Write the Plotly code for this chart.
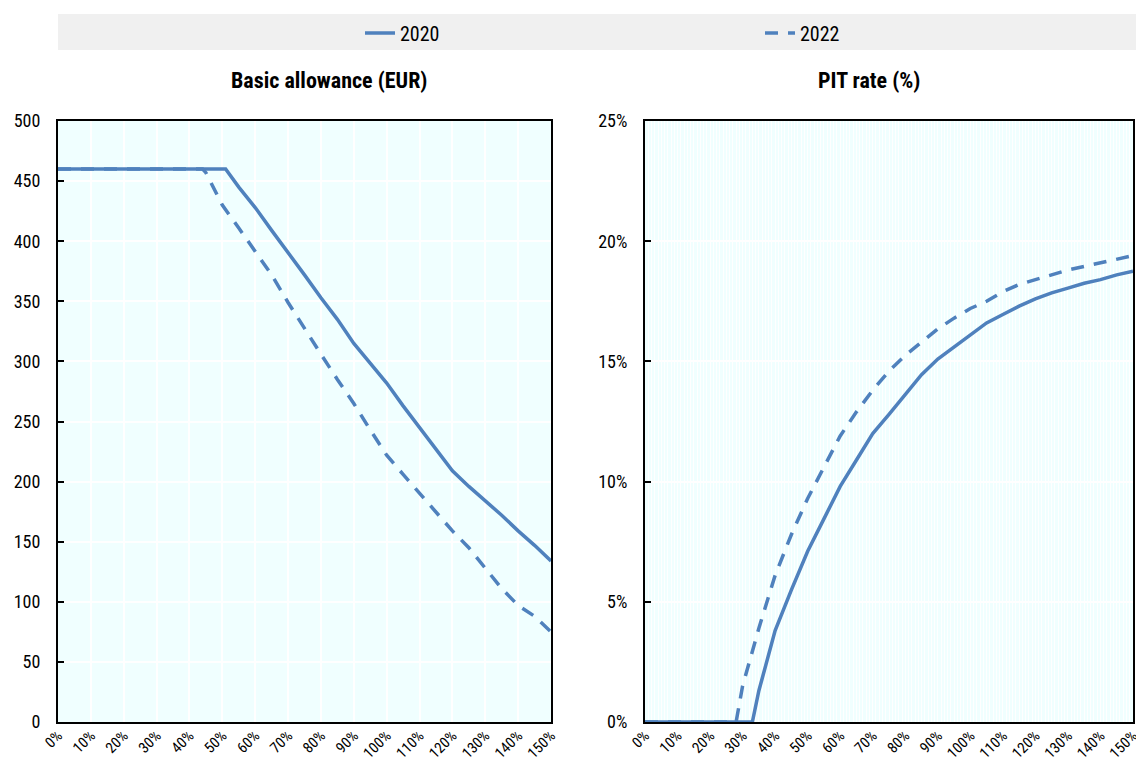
import plotly.graph_objects as go

# ---------------- data ----------------
x_allow_2020 = [0, 5, 10, 15, 20, 25, 30, 35, 40, 45, 50, 51, 55, 60, 65, 70, 75, 80, 85, 90, 95, 100,
                105, 110, 115, 120, 125, 130, 135, 140, 145, 150]
allow_2020 = [460, 460, 460, 460, 460, 460, 460, 460, 460, 460, 460, 460, 445, 428, 409, 391, 372, 353, 335,
              315, 298, 282, 263, 245, 226, 209, 196, 184, 172, 159, 147, 134]

x_allow_2022 = [0, 5, 10, 15, 20, 25, 30, 35, 40, 44, 45, 50, 55, 60, 65, 70, 75, 80, 85, 90, 95, 100,
                105, 110, 115, 120, 125, 130, 135, 140, 145, 150]
allow_2022 = [460, 460, 460, 460, 460, 460, 460, 460, 460, 460, 457, 430, 411, 392, 372, 349, 327, 306, 285,
              265, 243, 222, 206, 190, 174, 159, 145, 128, 111, 97, 88, 75]

x_pit_2020 = [0, 5, 10, 15, 20, 25, 30, 33, 35, 40, 45, 50, 55, 60, 65, 70, 75, 80, 85, 90, 95, 100,
              105, 110, 115, 120, 125, 130, 135, 140, 145, 150]
pit_2020 = [0, 0, 0, 0, 0, 0, 0, 0, 1.3, 3.8, 5.5, 7.1, 8.45, 9.8, 10.9, 12.0, 12.8, 13.6, 14.45, 15.1,
            15.6, 16.1, 16.6, 16.95, 17.3, 17.6, 17.85, 18.05, 18.25, 18.4, 18.6, 18.75]

x_pit_2022 = [0, 5, 10, 15, 20, 25, 28, 30, 35, 40, 45, 50, 55, 60, 65, 70, 75, 80, 85, 90, 95, 100,
              105, 110, 115, 120, 125, 130, 135, 140, 145, 150]
pit_2022 = [0, 0, 0, 0, 0, 0, 0, 1.5, 3.9, 6.1, 7.8, 9.3, 10.6, 11.9, 12.9, 13.8, 14.6, 15.25, 15.8, 16.35,
            16.8, 17.2, 17.5, 17.9, 18.2, 18.4, 18.6, 18.8, 18.95, 19.1, 19.25, 19.4]

x_ticks = list(range(0, 151, 10))
x_ticklabels = [f"{v}%" for v in x_ticks]
series_names = ["2020", "2022"]
panel_titles = ["Basic allowance (EUR)", "PIT rate (%)"]

# ---------------- style ----------------
BLUE = "#4F81BD"
BG = "#F0FFFF"
FONT = "Roboto Condensed, Liberation Sans Narrow, Arial Narrow, Roboto, sans-serif"
DASH = "13px,10px"

fig = go.Figure()

fig.add_trace(go.Scatter(x=x_allow_2020, y=allow_2020, mode="lines", name=series_names[0],
                         line=dict(color=BLUE, width=3.5), xaxis="x", yaxis="y", legend="legend"))
fig.add_trace(go.Scatter(x=x_allow_2022, y=allow_2022, mode="lines", name=series_names[1],
                         line=dict(color=BLUE, width=3.5, dash=DASH), xaxis="x", yaxis="y",
                         legend="legend2"))
fig.add_trace(go.Scatter(x=x_pit_2020, y=[v / 100 for v in pit_2020], mode="lines", name=series_names[0],
                         line=dict(color=BLUE, width=3.5), xaxis="x2", yaxis="y2", showlegend=False))
fig.add_trace(go.Scatter(x=x_pit_2022, y=[v / 100 for v in pit_2022], mode="lines", name=series_names[1],
                         line=dict(color=BLUE, width=3.5, dash=DASH), xaxis="x2", yaxis="y2",
                         showlegend=False))

W, H = 1136, 763
L1, R1 = 58 / W, 551 / W
L2, R2 = 645 / W, 1133 / W
TOP, BOT = 1 - 121 / H, 1 - 722 / H

axis_common = dict(showline=True, mirror=True, linecolor="black", linewidth=2, zeroline=False,
                   automargin=False)
y_font = dict(family=FONT, size=18, color="#000000")
x_font = dict(family=FONT, size=15, color="#000000")

legend_common = dict(orientation="h", xanchor="left", y=1 - 33 / H, yanchor="middle",
                     bgcolor="rgba(0,0,0,0)", font=dict(family=FONT, size=20, color="black"))

fig.update_layout(
    width=W, height=H,
    margin=dict(l=0, r=0, t=0, b=0),
    paper_bgcolor="white",
    plot_bgcolor=BG,
    font=dict(family=FONT, size=18, color="black"),
    xaxis=dict(domain=[L1, R1], range=[0, 150], tickvals=x_ticks, ticktext=x_ticklabels, tickangle=-45,
               showgrid=True, gridcolor="white", gridwidth=1.5, ticks="", anchor="y",
               ticklabeloverflow="allow", ticklabelstandoff=-3, tickfont=x_font, **axis_common),
    yaxis=dict(domain=[BOT, TOP], range=[0, 500], dtick=50, showgrid=True, gridcolor="white", gridwidth=1.5,
               ticks="inside", ticklen=6, tickcolor="black", tickwidth=2, ticklabelstandoff=12, anchor="x",
               tickfont=y_font, **axis_common),
    xaxis2=dict(domain=[L2, R2], range=[0, 150], tickvals=x_ticks, ticktext=x_ticklabels, tickangle=-45,
                showgrid=True, gridcolor="white", gridwidth=1,
                minor=dict(dtick=1, showgrid=True, gridcolor="white", gridwidth=1),
                ticks="", anchor="y2", ticklabeloverflow="allow", ticklabelstandoff=-3, tickfont=x_font,
                **axis_common),
    yaxis2=dict(domain=[BOT, TOP], range=[0, 0.25], dtick=0.05, tickformat=".0%", showgrid=True,
                gridcolor="white", gridwidth=1.5, ticks="inside", ticklen=6, tickcolor="black", tickwidth=2,
                ticklabelstandoff=12, anchor="x2", tickfont=y_font, **axis_common),
    legend=dict(x=360 / W, **legend_common),
    legend2=dict(x=760 / W, **legend_common),
    showlegend=True,
    shapes=[dict(type="rect", xref="paper", yref="paper", x0=58 / W, x1=1, y0=1 - 50 / H, y1=1 - 14 / H,
                 fillcolor="#F0F0F0", line=dict(width=0), layer="below")],
    annotations=[
        dict(text=f"<b>{panel_titles[0]}</b>", xref="paper", yref="paper", x=329 / W, y=1 - 80 / H,
             showarrow=False, xanchor="center", yanchor="middle", font=dict(family=FONT, size=22)),
        dict(text=f"<b>{panel_titles[1]}</b>", xref="paper", yref="paper", x=869 / W, y=1 - 80 / H,
             showarrow=False, xanchor="center", yanchor="middle", font=dict(family=FONT, size=22)),
    ],
)

fig.write_html("out.html")
